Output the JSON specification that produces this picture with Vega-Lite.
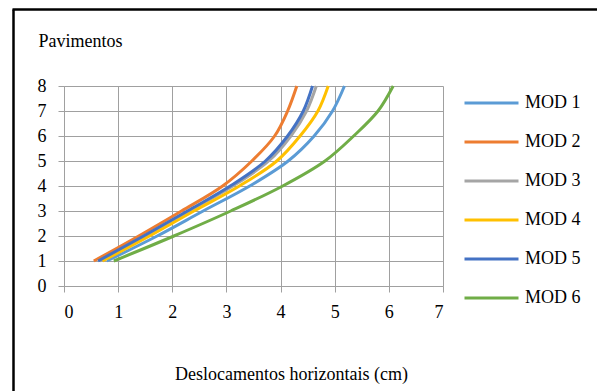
{
  "$schema": "https://vega.github.io/schema/vega-lite/v6.json",
  "autosize": {"type": "none"},
  "padding": {"left": 64, "top": 86, "right": 154, "bottom": 105},
  "width": 379,
  "height": 200,
  "background": "white",
  "config": {
    "view": {"stroke": null},
    "font": "Liberation Serif"
  },
  "data": {
    "values": [
      {"mod": "MOD 1", "floor": 1, "x": 0.79}, {"mod": "MOD 1", "floor": 2, "x": 1.72}, {"mod": "MOD 1", "floor": 3, "x": 2.57}, {"mod": "MOD 1", "floor": 4, "x": 3.43}, {"mod": "MOD 1", "floor": 5, "x": 4.14}, {"mod": "MOD 1", "floor": 6, "x": 4.62}, {"mod": "MOD 1", "floor": 7, "x": 4.96}, {"mod": "MOD 1", "floor": 8, "x": 5.18},
      {"mod": "MOD 2", "floor": 1, "x": 0.55}, {"mod": "MOD 2", "floor": 2, "x": 1.38}, {"mod": "MOD 2", "floor": 3, "x": 2.17}, {"mod": "MOD 2", "floor": 4, "x": 2.93}, {"mod": "MOD 2", "floor": 5, "x": 3.47}, {"mod": "MOD 2", "floor": 6, "x": 3.89}, {"mod": "MOD 2", "floor": 7, "x": 4.13}, {"mod": "MOD 2", "floor": 8, "x": 4.30},
      {"mod": "MOD 3", "floor": 1, "x": 0.66}, {"mod": "MOD 3", "floor": 2, "x": 1.50}, {"mod": "MOD 3", "floor": 3, "x": 2.31}, {"mod": "MOD 3", "floor": 4, "x": 3.12}, {"mod": "MOD 3", "floor": 5, "x": 3.78}, {"mod": "MOD 3", "floor": 6, "x": 4.19}, {"mod": "MOD 3", "floor": 7, "x": 4.48}, {"mod": "MOD 3", "floor": 8, "x": 4.66},
      {"mod": "MOD 4", "floor": 1, "x": 0.71}, {"mod": "MOD 4", "floor": 2, "x": 1.58}, {"mod": "MOD 4", "floor": 3, "x": 2.40}, {"mod": "MOD 4", "floor": 4, "x": 3.24}, {"mod": "MOD 4", "floor": 5, "x": 3.93}, {"mod": "MOD 4", "floor": 6, "x": 4.36}, {"mod": "MOD 4", "floor": 7, "x": 4.69}, {"mod": "MOD 4", "floor": 8, "x": 4.88},
      {"mod": "MOD 5", "floor": 1, "x": 0.63}, {"mod": "MOD 5", "floor": 2, "x": 1.47}, {"mod": "MOD 5", "floor": 3, "x": 2.28}, {"mod": "MOD 5", "floor": 4, "x": 3.07}, {"mod": "MOD 5", "floor": 5, "x": 3.72}, {"mod": "MOD 5", "floor": 6, "x": 4.13}, {"mod": "MOD 5", "floor": 7, "x": 4.42}, {"mod": "MOD 5", "floor": 8, "x": 4.59},
      {"mod": "MOD 6", "floor": 1, "x": 0.92}, {"mod": "MOD 6", "floor": 2, "x": 2.03}, {"mod": "MOD 6", "floor": 3, "x": 3.08}, {"mod": "MOD 6", "floor": 4, "x": 4.04}, {"mod": "MOD 6", "floor": 5, "x": 4.82}, {"mod": "MOD 6", "floor": 6, "x": 5.35}, {"mod": "MOD 6", "floor": 7, "x": 5.80}, {"mod": "MOD 6", "floor": 8, "x": 6.08}
    ]
  },
  "resolve": {"axis": {"x": "independent", "y": "independent"}},
  "layer": [
    {
      "mark": {"type": "line", "strokeWidth": 3, "interpolate": "catmull-rom"},
      "encoding": {
        "x": {
          "field": "x", "type": "quantitative",
          "scale": {"domain": [0, 7], "nice": false, "zero": false},
          "axis": {
            "orient": "bottom",
            "values": [0, 1, 2, 3, 4, 5, 6, 7],
            "format": "d",
            "grid": true, "gridColor": "#A0A0A0", "gridWidth": 1,
            "domainColor": "#A0A0A0", "tickColor": "#A0A0A0", "tickSize": 6,
            "labelColor": "black", "labelFont": "Liberation Serif", "labelFontSize": 18, "labelPadding": 11,
            "title": "Deslocamentos horizontais (cm)",
            "titleFont": "Liberation Serif", "titleFontSize": 18, "titleFontWeight": "normal", "titleColor": "black",
            "titleX": 227, "titleY": 88, "titleAlign": "center", "titleBaseline": "middle"
          }
        },
        "y": {
          "field": "floor", "type": "quantitative",
          "scale": {"domain": [0, 8], "nice": false, "zero": false},
          "axis": {
            "orient": "left",
            "values": [0, 1, 2, 3, 4, 5, 6, 7, 8],
            "format": "d",
            "grid": true, "gridColor": "#A0A0A0", "gridWidth": 1,
            "domainColor": "#A0A0A0", "tickColor": "#A0A0A0", "tickSize": 6,
            "labelColor": "black", "labelFont": "Liberation Serif", "labelFontSize": 18, "labelPadding": 12,
            "title": "Pavimentos",
            "titleFont": "Liberation Serif", "titleFontSize": 18, "titleFontWeight": "normal", "titleColor": "black",
            "titleAngle": 0, "titleX": -26, "titleY": -45, "titleAlign": "left", "titleBaseline": "middle"
          }
        },
        "color": {
          "field": "mod", "type": "nominal",
          "scale": {
            "domain": ["MOD 1", "MOD 2", "MOD 3", "MOD 4", "MOD 5", "MOD 6"],
            "range": ["#5B9BD5", "#ED7D31", "#A5A5A5", "#FFC000", "#4472C4", "#70AD47"]
          },
          "legend": {
            "title": null,
            "orient": "none", "legendX": 399, "legendY": 7,
            "symbolType": "stroke", "symbolSize": 2916, "symbolStrokeWidth": 3,
            "clipHeight": 20, "rowPadding": 19, "labelOffset": 5, "padding": 0,
            "labelFont": "Liberation Serif", "labelFontSize": 18, "labelColor": "black"
          }
        },
        "order": {"field": "floor", "type": "quantitative"}
      }
    },
    {
      "mark": {"type": "line", "opacity": 0},
      "encoding": {
        "x": {
          "field": "x", "type": "quantitative",
          "axis": {
            "orient": "top", "values": [0], "labels": false, "domain": false, "grid": false,
            "ticks": true, "tickSize": 382, "tickWidth": 2.5, "tickColor": "black", "tickOffset": -51.5, "offset": -305, "title": null
          }
        },
        "y": {
          "field": "floor", "type": "quantitative",
          "axis": {
            "orient": "right", "values": [8], "labels": false, "domain": false, "grid": false,
            "ticks": true, "tickSize": 590, "tickWidth": 2.5, "tickColor": "black", "tickOffset": -76.7, "offset": -431, "title": null
          }
        },
        "detail": {"field": "mod", "type": "nominal"}
      }
    }
  ]
}
